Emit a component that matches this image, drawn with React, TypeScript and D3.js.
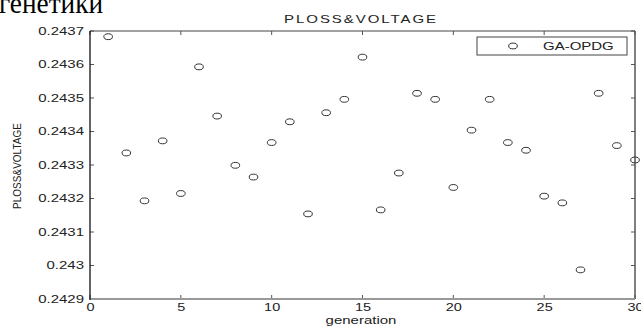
import React from "react";
import * as d3 from "d3";

const generations = [1,2,3,4,5,6,7,8,9,10,11,12,13,14,15,16,17,18,19,20,21,22,23,24,25,26,27,28,29,30];
const plossValues = [
  0.243683, 0.243336, 0.243193, 0.243372, 0.243215, 0.243593, 0.243446, 0.243299, 0.243264, 0.243367,
  0.243429, 0.243154, 0.243456, 0.243496, 0.243622, 0.243166, 0.243276, 0.243514, 0.243496, 0.243233,
  0.243404, 0.243496, 0.243367, 0.243344, 0.243207, 0.243187, 0.242987, 0.243514, 0.243358, 0.243315,
];
const xTicks = [0, 5, 10, 15, 20, 25, 30];
const yTicks = [0.2429, 0.243, 0.2431, 0.2432, 0.2433, 0.2434, 0.2435, 0.2436, 0.2437];
const yTickLabels = ["0.2429", "0.243", "0.2431", "0.2432", "0.2433", "0.2434", "0.2435", "0.2436", "0.2437"];
const titleText = "PLOSS&VOLTAGE";
const xLabel = "generation";
const yLabel = "PLOSS&VOLTAGE";
const legendLabel = "GA-OPDG";
const headerText = "генетики";

const FONT = "Liberation Sans, Arial, sans-serif";

function WideText(props: { x: number; y: number; sx: number; anchor?: string; size?: number; children: React.ReactNode; letterSpacing?: number }) {
  const { x, y, sx, anchor = "start", size = 10, children, letterSpacing = 0 } = props;
  return (
    <text
      transform={`translate(${x},${y}) scale(${sx},1)`}
      textAnchor={anchor as any}
      fontFamily={FONT}
      fontSize={size}
      letterSpacing={letterSpacing}
      fill="#222"
    >
      {children}
    </text>
  );
}

export default function App() {
  const W = 641, H = 327;
  const left = 90, right = 635, top = 31, bottom = 299;
  const x = d3.scaleLinear().domain([0, 30]).range([left, right]);
  const y = d3.scaleLinear().domain([0.2429, 0.2437]).range([bottom, top]);
  const tickColor = "#555";
  return (
    <svg width={W} height={H} style={{ position: "absolute", left: 0, top: 0, background: "#fff" }}>
      <text x={-1} y={13} fontFamily="Liberation Serif, Times New Roman, serif" fontSize={30} textLength={104} lengthAdjust="spacingAndGlyphs" fill="#000">{headerText}</text>
      <rect x={left} y={top} width={right - left} height={bottom - top} fill="#fff" />
      {xTicks.map((t) => (
        <g key={"xt" + t}>
          <line x1={x(t)} x2={x(t)} y1={bottom} y2={bottom - 4} stroke={tickColor} strokeWidth={1} />
          <line x1={x(t)} x2={x(t)} y1={top} y2={top + 4} stroke={tickColor} strokeWidth={1} />
          <WideText x={x(t) + 0.5} y={311} sx={1.45} anchor="middle" size={10}>{t}</WideText>
        </g>
      ))}
      {yTicks.map((t, i) => (
        <g key={"yt" + i}>
          <line x1={left} x2={left + 4} y1={y(t)} y2={y(t)} stroke={tickColor} strokeWidth={1} />
          <line x1={right} x2={right - 4} y1={y(t)} y2={y(t)} stroke={tickColor} strokeWidth={1} />
          <WideText x={84} y={y(t) + 3.5} sx={1.5} anchor="end" size={10}>{yTickLabels[i]}</WideText>
        </g>
      ))}
      <line x1={left} x2={right} y1={top} y2={top} stroke="#444" strokeWidth={1} />
      <line x1={right} x2={right} y1={top} y2={bottom} stroke="#555" strokeWidth={1.5} />
      <line x1={left} x2={right} y1={bottom} y2={bottom} stroke="#999" strokeWidth={2} />
      <line x1={left} x2={left} y1={top} y2={bottom + 1} stroke="#111" strokeWidth={1.3} />
      {generations.map((g, i) => (
        <ellipse key={"p" + i} cx={x(g)} cy={y(plossValues[i])} rx={4.3} ry={2.9} fill="none" stroke="#333" strokeWidth={1} />
      ))}
      <WideText x={361} y={23} sx={1.5} anchor="middle" size={10} letterSpacing={1.3}>{titleText}</WideText>
      <WideText x={361} y={324} sx={1.5} anchor="middle" size={10}>{xLabel}</WideText>
      <text transform={`translate(21,166) rotate(-90)`} textAnchor="middle" fontFamily={FONT} fontSize={10} fill="#222">{yLabel}</text>
      <rect x={477} y={37} width={150} height={18} fill="#fff" stroke="#444" strokeWidth={1} />
      <ellipse cx={513} cy={46} rx={4.3} ry={2.9} fill="none" stroke="#333" strokeWidth={1} />
      <WideText x={543} y={50} sx={1.5} size={10}>{legendLabel}</WideText>
    </svg>
  );
}
